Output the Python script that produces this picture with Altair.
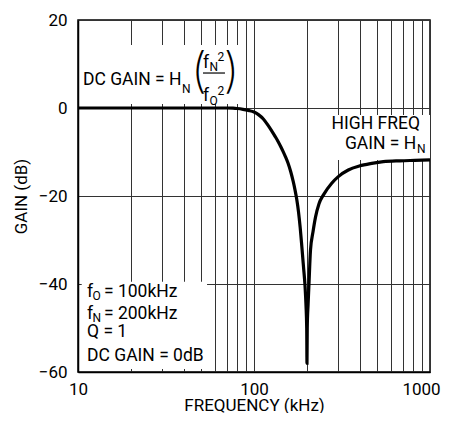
import altair as alt
import pandas as pd

FONT = "Roboto"

# curve: frequency (kHz) and gain (dB)
freq = [10, 20, 30, 40, 50, 60, 70, 76, 80, 86.6, 93, 100, 106, 113, 120, 126, 132, 137,
        142, 146, 151, 156, 162, 167, 171, 175, 179, 183, 187, 191, 195, 197.5, 199.3,
        200, 200.7, 203, 205.3, 209.4, 216.3, 223.6, 234.1, 247.6, 276.4,
        301.3, 343.4, 396.6, 466.6, 542.9, 675.3, 820, 1000]
gain = [0, 0, 0, 0, 0, 0, 0, -0.05, -0.12, -0.3, -0.55, -0.9, -1.5, -2.5, -3.9, -5.2, -6.5, -7.6,
        -8.8, -9.8, -11.1, -12.5, -14.6, -16.7, -18.6, -20.8, -23.6, -27.2, -31.5, -36.0,
        -40.5, -45.0, -50.0,
        -58.0, -50.0, -44.5, -40.0, -32.3, -28.2, -24.8, -21.75, -19.8, -17.1,
        -15.6, -14.1, -13.2, -12.6, -12.2, -12.0, -11.9, -11.8]

x_grid = [10, 20, 30, 40, 50, 60, 70, 80, 90, 100, 200, 300, 400, 500, 600, 700, 800, 900, 1000]
x_labels = [10, 100, 1000]
y_ticks = [-60, -40, -20, 0, 20]

# white backgrounds behind the annotations (kHz, dB)
box_f1 = [10.26, 281, 10.5]
box_f2 = [83.3, 1000, 54.1]
box_g1 = [14.3, -1.6, -39.5]
box_g2 = [0.9, -11.8, -59.3]

# annotation text pieces (left aligned)
left_text = ["DC GAIN = H", "N", "f", "N", "2", "f", "O", "2",
             "f", "O", "= 100kHz", "f", "N", "= 200kHz", "Q = 1", "DC GAIN = 0dB", "N"]
left_f = [10.67, 39.0, 51.3, 55.9, 62.0, 51.3, 55.9, 62.0,
          11.25, 12.09, 14.05, 11.25, 12.09, 14.05, 11.25, 11.25, 843]
left_g = [6.42, 4.23, 10.28, 9.23, 11.5, 2.78, 1.5, 3.77,
          -41.92, -42.66, -41.92, -46.83, -47.75, -46.83, -50.85, -56.47, -9.34]
left_size = [17.5, 12, 17.5, 12, 12, 17.5, 12, 12,
             17.5, 12, 17.5, 17.5, 12, 17.5, 17.5, 17.5, 12]

# annotation text pieces (right aligned)
right_text = ["HIGH FREQ", "GAIN = H"]
right_f = [877, 836]
right_g = [-3.65, -8.19]
right_size = [17.5, 17.5]

# big brackets of the DC gain formula
paren_text = ["(", ")"]
paren_f = [48.7, 74.5]
paren_g = [7.95, 7.95]
paren_size = [48, 48]

# fraction bar
frac_f = [51.3]
frac_f2 = [68.4]
frac_g = [7.95]

xscale = alt.Scale(type="log", domain=[10, 1000], nice=False)
yscale = alt.Scale(domain=[-60, 20], nice=False, zero=False)

curve_df = pd.DataFrame({"f": freq, "g": gain})
box_df = pd.DataFrame({"f1": box_f1, "f2": box_f2, "g1": box_g1, "g2": box_g2})
left_df = pd.DataFrame({"t": left_text, "f": left_f, "g": left_g, "s": left_size})
right_df = pd.DataFrame({"t": right_text, "f": right_f, "g": right_g, "s": right_size})
paren_df = pd.DataFrame({"t": paren_text, "f": paren_f, "g": paren_g, "s": paren_size})
frac_df = pd.DataFrame({"f": frac_f, "f2": frac_f2, "g": frac_g})

label_expr = "indexof([10,100,1000], datum.value) >= 0 ? format(datum.value, 'd') : ''"

xaxis = alt.Axis(values=x_grid, grid=True, ticks=False, labelExpr=label_expr,
                 labelFlush=False, labelPadding=9, title="FREQUENCY (kHz)",
                 titlePadding=0,
                 labelOffset={"condition": {"test": "datum.value === 1000", "value": -9},
                              "value": 0})
yaxis = alt.Axis(values=y_ticks, grid=True, ticks=False, labelPadding=11,
                 title="GAIN (dB)", titlePadding=8, labelFlush=False)

boxes = alt.Chart(box_df).mark_rect(color="white").encode(
    x=alt.X("f1:Q", scale=xscale, axis=xaxis),
    x2="f2:Q",
    y=alt.Y("g1:Q", scale=yscale, axis=yaxis),
    y2="g2:Q",
)

texts_left = alt.Chart(left_df).mark_text(align="left", baseline="middle", font=FONT,
                                          color="black").encode(
    x=alt.X("f:Q", scale=xscale), y=alt.Y("g:Q", scale=yscale),
    text="t:N", size=alt.Size("s:Q", scale=None))

texts_right = alt.Chart(right_df).mark_text(align="right", baseline="middle", font=FONT,
                                            color="black").encode(
    x=alt.X("f:Q", scale=xscale), y=alt.Y("g:Q", scale=yscale),
    text="t:N", size=alt.Size("s:Q", scale=None))

parens = alt.Chart(paren_df).mark_text(align="center", baseline="middle", font="Inter",
                                       color="black", fontWeight=200).encode(
    x=alt.X("f:Q", scale=xscale), y=alt.Y("g:Q", scale=yscale),
    text="t:N", size=alt.Size("s:Q", scale=None))

frac = alt.Chart(frac_df).mark_rule(color="black", strokeWidth=1.2).encode(
    x=alt.X("f:Q", scale=xscale), x2="f2:Q", y=alt.Y("g:Q", scale=yscale))

curve = alt.Chart(curve_df).mark_line(color="black", strokeWidth=3.2,
                                      interpolate="monotone").encode(
    x=alt.X("f:Q", scale=xscale), y=alt.Y("g:Q", scale=yscale))

chart = alt.layer(boxes, texts_left, texts_right, parens, frac, curve).properties(
    width=352, height=352,
    autosize=alt.AutoSizeParams(type="none"),
    padding={"left": 70, "top": 12, "right": 12, "bottom": 41},
).configure_view(
    stroke="black", strokeWidth=1.5
).configure_axis(
    gridColor="#333", gridWidth=1, gridOpacity=1,
    domainColor="black", domainWidth=1.5,
    labelFont=FONT, labelFontSize=17, labelColor="black",
    titleFont=FONT, titleFontSize=17, titleFontWeight="normal", titleColor="black",
)

chart.save("out.html", embed_options={"renderer": "svg", "actions": False})
